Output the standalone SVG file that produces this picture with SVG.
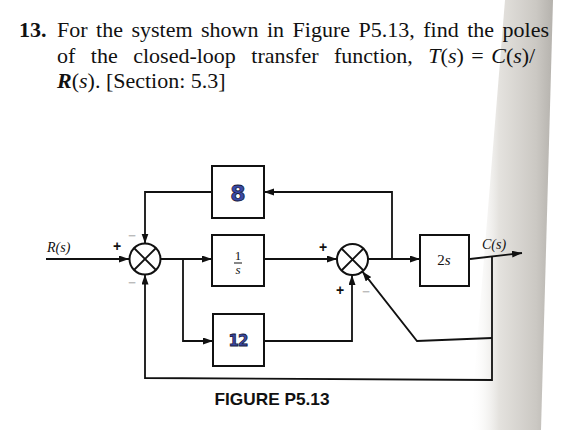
<svg xmlns="http://www.w3.org/2000/svg" width="568" height="430" viewBox="0 0 568 430">
<defs>
<linearGradient id="fold" x1="0" y1="0" x2="1" y2="0">
<stop offset="0" stop-color="#ffffff" stop-opacity="0"/>
<stop offset="0.35" stop-color="#e4e2de"/>
<stop offset="0.8" stop-color="#cbc8c3"/>
<stop offset="1" stop-color="#b5b2ad"/>
</linearGradient>
<marker id="arr" markerWidth="11" markerHeight="8" refX="10" refY="3.5" orient="auto" markerUnits="userSpaceOnUse">
<path d="M0,0 L10,3.5 L0,7 z" fill="#111"/>
</marker>
<style>
.ln{fill:none;stroke:#111;stroke-width:1.8}
.bx{fill:#fff;stroke:#111;stroke-width:2}
.sj{fill:#fff;stroke:#111;stroke-width:2}
.hd{font-family:"Liberation Serif",serif;font-size:22px;fill:#111}
.lb{font-family:"Liberation Serif",serif;font-style:italic;fill:#111}
.sg{font-family:"Liberation Sans",sans-serif;font-weight:bold;fill:#111;font-size:14px}
.mn{font-family:"Liberation Sans",sans-serif;font-weight:bold;fill:#bbb;font-size:13px}
.hw{font-family:"DejaVu Sans",sans-serif;font-weight:bold;fill:#3a4aa8;stroke:#15183a;stroke-width:0.8}
</style>
</defs>
<rect width="568" height="430" fill="#fff"/>
<polygon points="505,0 553,0 541,430 470,430" fill="url(#fold)"/>

<g id="header">
<text class="hd" x="19" y="37" font-weight="bold">13.</text>
<text class="hd" x="57" y="37" word-spacing="3">For the system shown in Figure P5.13, find the poles</text>
<text class="hd" x="57" y="63"><tspan word-spacing="10">of the closed-loop transfer function, </tspan><tspan word-spacing="2"><tspan font-style="italic">T</tspan>(<tspan font-style="italic">s</tspan>) = <tspan font-style="italic">C</tspan>(<tspan font-style="italic">s</tspan>)/</tspan></text>
<text class="hd" x="57" y="88"><tspan font-style="italic" font-weight="bold">R</tspan>(<tspan font-style="italic">s</tspan>). [Section: 5.3]</text>
</g>

<g id="connectors">
<path class="ln" d="M46,259 H129" marker-end="url(#arr)"/>
<path class="ln" d="M160,259 H212" marker-end="url(#arr)"/>
<path class="ln" d="M183,259 V341 H213" marker-end="url(#arr)"/>
<path class="ln" d="M212,192 H145 V243.5" marker-end="url(#arr)"/>
<path class="ln" d="M492,257 V380 L145,378 V274.5" marker-end="url(#arr)"/>
<path class="ln" d="M264,259 H337" marker-end="url(#arr)"/>
<path class="ln" d="M264,341 H352 V275" marker-end="url(#arr)"/>
<path class="ln" d="M368,259 H420" marker-end="url(#arr)"/>
<path class="ln" d="M392,259 V192 H264" marker-end="url(#arr)"/>
<path class="ln" d="M470,259 L522,253" marker-end="url(#arr)"/>
<path class="ln" d="M492,338 L417,341 L362.3,271.4" marker-end="url(#arr)"/>
</g>

<g id="sum1">
<circle class="sj" cx="145" cy="259" r="15.5"/>
<path class="ln" d="M134,248 L156,270 M156,248 L134,270"/>
<text class="sg" x="117" y="251" text-anchor="middle">+</text>
<text class="mn" x="132" y="240" text-anchor="middle">−</text>
<text class="mn" x="132" y="287" text-anchor="middle">−</text>
</g>

<g id="sum2">
<circle class="sj" cx="352.5" cy="259.5" r="15.5"/>
<path class="ln" d="M341.5,248.5 L363.5,270.5 M363.5,248.5 L341.5,270.5"/>
<text class="sg" x="323" y="252" text-anchor="middle">+</text>
<text class="sg" x="340" y="295" text-anchor="middle">+</text>
<text class="mn" x="366" y="296" text-anchor="middle">−</text>
</g>

<g id="block8">
<rect class="bx" x="212" y="166" width="52" height="52"/>
<text class="hw" x="238" y="201" font-size="22" text-anchor="middle">8</text>
</g>

<g id="block1s">
<rect class="bx" x="212" y="235" width="52" height="51"/>
<text x="238" y="260" font-family="Liberation Serif,serif" font-size="13" text-anchor="middle" fill="#111">1</text>
<line x1="234" y1="263" x2="242" y2="263" stroke="#111" stroke-width="1"/>
<text class="lb" x="238" y="274" font-size="13" text-anchor="middle">s</text>
</g>

<g id="block12">
<rect class="bx" x="213" y="314" width="51" height="52"/>
<text class="hw" x="238" y="346" font-size="15" text-anchor="middle" letter-spacing="-1">12</text>
</g>

<g id="block2s">
<rect class="bx" x="420" y="235" width="49" height="51"/>
<text x="444" y="265" font-family="Liberation Serif,serif" font-size="15" text-anchor="middle" fill="#111">2<tspan font-style="italic">s</tspan></text>
</g>

<g id="labels">
<text class="lb" x="47" y="252" font-size="14">R(s)</text>
<text class="lb" x="482" y="249" font-size="14">C(s)</text>
<text x="272" y="405" font-family="Liberation Sans,sans-serif" font-weight="bold" font-size="17" text-anchor="middle" fill="#111" textLength="115" lengthAdjust="spacingAndGlyphs">FIGURE P5.13</text>
</g>
</svg>
